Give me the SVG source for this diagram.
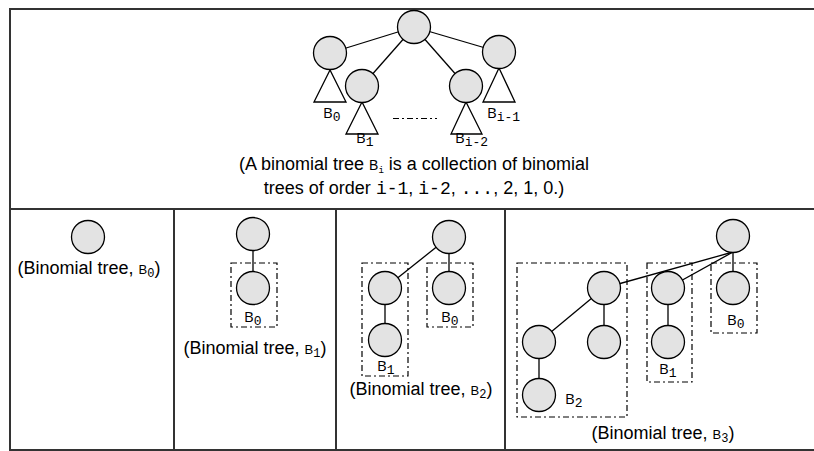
<svg xmlns="http://www.w3.org/2000/svg" width="814" height="451" viewBox="0 0 814 451">
<style>
.frame{stroke:#333;stroke-width:2;fill:none}
.edge{stroke:#000;stroke-width:1.3;fill:none}
.node{fill:#e3e3e3;stroke:#000;stroke-width:1.3}
.tri{fill:#fff;stroke:#000;stroke-width:1.3}
.box{fill:none;stroke:#000;stroke-width:1.2;stroke-dasharray:6 3 2 3}
.cap{font-family:"Liberation Sans",Arial,sans-serif;font-size:18px;fill:#000}
.lbl{font-family:"Open Sans","DejaVu Sans",sans-serif;font-size:15px;fill:#000}
.mono{font-family:"Liberation Mono","DejaVu Sans Mono",monospace}
.sub{font-size:13px}
</style>
<rect width="814" height="451" fill="#fff"/>
<g id="frame">
<line class="frame" x1="9" y1="9" x2="814" y2="9"/>
<line class="frame" x1="10" y1="9" x2="10" y2="451"/>
<line class="frame" x1="9" y1="209" x2="814" y2="209"/>
<line class="frame" x1="9" y1="450" x2="814" y2="450"/>
<line class="frame" x1="174" y1="209" x2="174" y2="450"/>
<line class="frame" x1="336" y1="209" x2="336" y2="450"/>
<line class="frame" x1="505" y1="209" x2="505" y2="450"/>
</g>
<g id="connectors">
<line class="edge" x1="414" y1="27" x2="330" y2="53"/>
<line class="edge" x1="414" y1="27" x2="362" y2="86"/>
<line class="edge" x1="414" y1="27" x2="466" y2="86"/>
<line class="edge" x1="414" y1="27" x2="499" y2="52"/>
<line class="edge" x1="253" y1="234" x2="253" y2="288"/>
<line class="edge" x1="449" y1="237" x2="385" y2="288"/>
<line class="edge" x1="449" y1="237" x2="449" y2="288"/>
<line class="edge" x1="385" y1="288" x2="385" y2="340"/>
<line class="edge" x1="733" y1="252" x2="604" y2="288"/>
<line class="edge" x1="733" y1="252" x2="668" y2="288"/>
<line class="edge" x1="733" y1="236" x2="733" y2="288"/>
<line class="edge" x1="604" y1="288" x2="539" y2="342"/>
<line class="edge" x1="604" y1="288" x2="604" y2="342"/>
<line class="edge" x1="539" y1="342" x2="539" y2="395"/>
<line class="edge" x1="668" y1="288" x2="668" y2="342"/>
<line x1="393" y1="118.5" x2="437" y2="118.5" stroke="#000" stroke-width="1.2" stroke-dasharray="6 3 2 3"/>
</g>
<g id="top-tree">
<g id="t-root"><circle class="node" cx="414" cy="27" r="16.5"/></g>
<g id="t-b0"><polygon class="tri" points="330,70 314,102 346,102"/><circle class="node" cx="330" cy="53" r="16.5"/><text class="lbl" x="323" y="118">B<tspan class="mono sub" dy="3">0</tspan></text></g>
<g id="t-b1"><polygon class="tri" points="362,102 346,134 378,134"/><circle class="node" cx="362" cy="86" r="16.5"/><text class="lbl" x="356" y="143">B<tspan class="mono sub" dy="3">1</tspan></text></g>
<g id="t-bi2"><polygon class="tri" points="466,102 451,134 482,134"/><circle class="node" cx="466" cy="86" r="16.5"/><text class="lbl" x="455" y="143">B<tspan class="mono sub" dy="3">i-2</tspan></text></g>
<g id="t-bi1"><polygon class="tri" points="499,68 483,102 515,102"/><circle class="node" cx="499" cy="52" r="16.5"/><text class="lbl" x="487" y="118">B<tspan class="mono sub" dy="3">i-1</tspan></text></g>
<text class="cap" x="414" y="170" text-anchor="middle">(A binomial tree <tspan font-size="14">B</tspan><tspan class="mono" font-size="9" dy="3">i</tspan><tspan dy="-3"> is a collection of binomial</tspan></text>
<text class="cap" x="414" y="194" text-anchor="middle">trees of order <tspan class="mono">i-1</tspan>, <tspan class="mono">i-2</tspan>, <tspan class="mono">...</tspan>, 2, 1, 0.)</text>
</g>
<g id="panel-b0">
<g id="p0-n"><circle class="node" cx="88" cy="237" r="16.5"/></g>
<text class="cap" x="89" y="274" text-anchor="middle">(Binomial tree, <tspan font-size="13">B</tspan><tspan class="mono" font-size="12" dy="3">0</tspan><tspan dy="-3">)</tspan></text>
</g>
<g id="panel-b1">
<g id="p1-root"><circle class="node" cx="253" cy="234" r="16.5"/></g>
<g id="p1-b0"><rect class="box" x="231" y="263" width="46" height="64"/><circle class="node" cx="253" cy="288" r="16.5"/><text class="lbl" x="244" y="322">B<tspan class="mono sub" dy="3">0</tspan></text></g>
<text class="cap" x="255" y="354" text-anchor="middle">(Binomial tree, <tspan font-size="13">B</tspan><tspan class="mono" font-size="12" dy="3">1</tspan><tspan dy="-3">)</tspan></text>
</g>
<g id="panel-b2">
<g id="p2-root"><circle class="node" cx="449" cy="237" r="16.5"/></g>
<g id="p2-b1"><rect class="box" x="362" y="263" width="46" height="113"/><circle class="node" cx="385" cy="288" r="16.5"/><circle class="node" cx="385" cy="340" r="16.5"/><text class="lbl" x="377" y="371">B<tspan class="mono sub" dy="3">1</tspan></text></g>
<g id="p2-b0"><rect class="box" x="427" y="263" width="46" height="64"/><circle class="node" cx="449" cy="288" r="16.5"/><text class="lbl" x="441" y="322">B<tspan class="mono sub" dy="3">0</tspan></text></g>
<text class="cap" x="421" y="395" text-anchor="middle">(Binomial tree, <tspan font-size="13">B</tspan><tspan class="mono" font-size="12" dy="3">2</tspan><tspan dy="-3">)</tspan></text>
</g>
<g id="panel-b3">
<g id="p3-root"><circle class="node" cx="733" cy="236" r="16.5"/></g>
<g id="p3-b2"><rect class="box" x="517" y="263" width="110" height="154"/><circle class="node" cx="604" cy="288" r="16.5"/><circle class="node" cx="539" cy="342" r="16.5"/><circle class="node" cx="604" cy="342" r="16.5"/><circle class="node" cx="539" cy="395" r="16.5"/><text class="lbl" x="565" y="404">B<tspan class="mono sub" dy="3">2</tspan></text></g>
<g id="p3-b1"><rect class="box" x="647" y="263" width="45" height="119"/><circle class="node" cx="668" cy="288" r="16.5"/><circle class="node" cx="668" cy="342" r="16.5"/><text class="lbl" x="659" y="374">B<tspan class="mono sub" dy="3">1</tspan></text></g>
<g id="p3-b0"><rect class="box" x="711" y="263" width="46" height="70"/><circle class="node" cx="733" cy="288" r="16.5"/><text class="lbl" x="727" y="325">B<tspan class="mono sub" dy="3">0</tspan></text></g>
<text class="cap" x="663" y="439" text-anchor="middle">(Binomial tree, <tspan font-size="13">B</tspan><tspan class="mono" font-size="12" dy="3">3</tspan><tspan dy="-3">)</tspan></text>
</g>
</svg>
